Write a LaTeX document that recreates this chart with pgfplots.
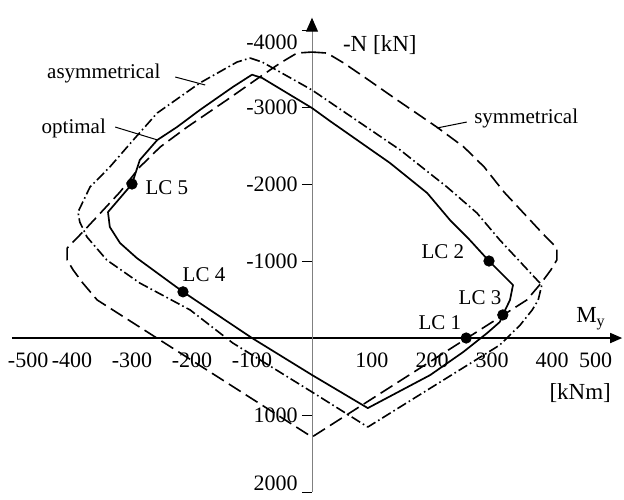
\documentclass[border=0pt]{standalone}
\usepackage{fontspec}
\setmainfont{Liberation Serif}
\usepackage{pgfplots}
\pgfplotsset{compat=1.18}
\usetikzlibrary{arrows.meta}

% Interaction curves M_y - N (M in kNm, N in kN, compression negative)
\pgfplotstableread{
M N
-100 -3420
-83 -3377
0 -2987
30 -2818
130 -2273
192 -1883
230 -1532
263 -1273
295 -1000
335 -688
330 -494
318 -300
313 -208
292 -65
252 182
197 481
93 910
0 480
-100 0
-215 -600
-292 -1039
-320 -1234
-337 -1442
-340 -1636
-300 -2000
-287 -2312
-258 -2571
-225 -2740
-187 -2961
-132 -3260
-100 -3420
}\optimal

\pgfplotstableread{
M N
-103 -3636
-83 -3584
0 -3221
147 -2442
225 -1961
275 -1623
313 -1273
383 -688
377 -494
367 -364
347 -169
313 91
93 1156
0 701
-132 65
-203 -364
-287 -714
-342 -1013
-375 -1312
-387 -1506
-390 -1636
-370 -1961
-337 -2221
-298 -2571
-258 -2922
-187 -3312
-125 -3584
-103 -3636
}\asymmetrical

\pgfplotstableread{
M N
0 -3714
25 -3701
53 -3571
87 -3390
142 -3091
208 -2740
253 -2481
287 -2221
320 -1896
382 -1377
408 -1169
408 -1013
398 -883
382 -714
358 -494
0 1286
-358 -494
-382 -714
-398 -883
-408 -1013
-408 -1169
-382 -1377
-320 -1896
-287 -2221
-253 -2481
-208 -2740
-142 -3091
-87 -3390
-53 -3571
-25 -3701
0 -3714
}\symmetrical

\pgfplotstableread{
M N
257 0
295 -1000
318 -300
-215 -600
-300 -2000
}\loadcases

\begin{document}
\begin{tikzpicture}[lab/.style={font=\fontsize{10.5}{12}\selectfont}]
\begin{axis}[
  x=0.3pt, y=0.0385pt,
  y dir=reverse,
  axis lines=middle,
  xmin=-500, xmax=517, ymin=-4160, ymax=2000,
  clip=false,
  x axis line style={-{Triangle[length=6pt,width=5pt,color=black]}, black, line width=0.8pt},
  y axis line style={{Triangle[length=7pt,width=6pt,color=black]}-, gray, line width=0.5pt},
  xtick={-500,-400,-300,-200,-100,100,200,300,400,500},
  xticklabels={\makebox[0pt][l]{\hspace{-2pt}-500}, -400, -300, -200, -100, 100, 200, 300, 400, \makebox[0pt][r]{500}},
  ytick={-4000,-3000,-2000,-1000,1000,2000},
  yticklabels={\raisebox{-6pt}[\height][\depth]{-4000}, -3000, -2000, -1000, 1000, \raisebox{4.5pt}[\height][\depth]{2000}},
  x tick style={draw=none},
  y tick style={black, line width=0.5pt},
  major tick length=5pt,
  tick align=outside,
  tick label style={font=\fontsize{11}{13}\selectfont},
  xticklabel style={anchor=north, inner sep=0pt, yshift=-2pt},
  yticklabel style={anchor=east, inner sep=0pt, xshift=-2pt},
]
\addplot[black, line width=0.85pt, line join=round] table[x=M, y=N] {\optimal};
\addplot[black, line width=0.8pt, line join=round, dash pattern=on 7pt off 3pt] table[x=M, y=N] {\symmetrical};
\addplot[black, line width=0.8pt, line join=round, dash pattern=on 5pt off 1.6pt on 0.8pt off 1.6pt] table[x=M, y=N] {\asymmetrical};
\addplot[only marks, mark=*, mark size=2.6pt, black] table[x=M, y=N] {\loadcases};

% curve names with leaders
\node[lab] at (axis cs:-347,-3442) {asymmetrical};
\draw[line width=0.5pt] (axis cs:-228,-3390) -- (axis cs:-178,-3286);
\node[lab] at (axis cs:-397,-2727) {optimal};
\draw[line width=0.5pt] (axis cs:-328,-2740) -- (axis cs:-257,-2571);
\node[lab] at (axis cs:357,-2857) {symmetrical};
\draw[line width=0.5pt] (axis cs:258,-2805) -- (axis cs:208,-2727);

% load cases
\node[lab] at (axis cs:213,-195) {LC 1};
\node[lab] at (axis cs:218,-1117) {LC 2};
\node[lab] at (axis cs:280,-519) {LC 3};
\node[lab] at (axis cs:-180,-818) {LC 4};
\node[lab] at (axis cs:-242,-1948) {LC 5};

% axis titles
\node[font=\fontsize{11.5}{13}\selectfont] at (axis cs:113,-3805) {-N [kN]};
\node[font=\fontsize{11.5}{13}\selectfont] at (axis cs:465,-250) {M\textsubscript{y}};
\node[font=\fontsize{11.5}{13}\selectfont] at (axis cs:447,714) {[kNm]};

% page extent
\path (axis cs:-520,-4390) rectangle (axis cs:520,2013);
\end{axis}
\end{tikzpicture}
\end{document}
